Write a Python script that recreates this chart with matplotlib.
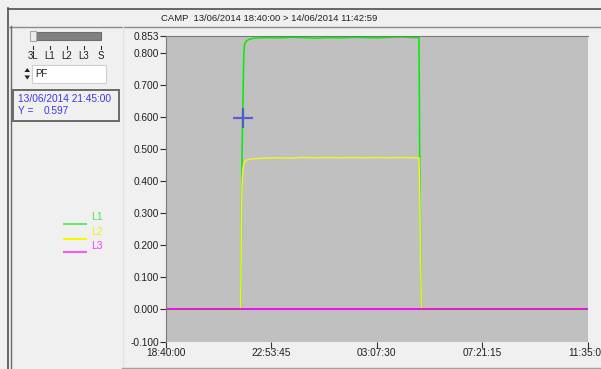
import matplotlib
matplotlib.use("Agg")
import matplotlib.pyplot as plt
import matplotlib.dates as mdates
from matplotlib.patches import Rectangle, Polygon
import pandas as pd

plt.rcParams['font.family'] = ['Liberation Sans', 'DejaVu Sans']

# time axis: minutes after 13/06/2014 18:40:00
start = pd.Timestamp('2014-06-13 18:40:00')

l1_min = [0, 180, 181, 182, 183, 184, 185, 186, 187, 188, 190, 195, 200, 210, 240, 270, 300,
          330, 360, 390, 420, 450, 480, 510, 540, 570, 600, 609, 610, 611, 612, 613, 614, 615,
          616, 1023]
l1_val = [0.0, 0.0, 0.08, 0.22, 0.40, 0.52, 0.597, 0.66, 0.74, 0.80, 0.83, 0.838, 0.842, 0.846,
          0.848, 0.847, 0.849, 0.848, 0.846, 0.848, 0.847, 0.849, 0.848, 0.847, 0.849, 0.850,
          0.848, 0.848, 0.69, 0.45, 0.38, 0.21, 0.11, 0.03, 0.0, 0.0]

l2_min = [0, 180, 181, 182, 183, 184, 185, 186, 188, 192, 200, 210, 240, 270, 300, 330, 360,
          390, 420, 450, 480, 510, 540, 570, 600, 609, 610, 611, 612, 613, 614, 615, 616, 1023]
l2_val = [0.0, 0.0, 0.10, 0.25, 0.35, 0.40, 0.425, 0.44, 0.453, 0.465, 0.468, 0.470, 0.472,
          0.473, 0.472, 0.474, 0.473, 0.474, 0.473, 0.474, 0.473, 0.474, 0.473, 0.474, 0.473,
          0.473, 0.43, 0.36, 0.26, 0.16, 0.08, 0.02, 0.0, 0.0]

l3_min = [0, 1023]
l3_val = [0.0, 0.0]

cursor_time = '2014-06-13 21:45:00'
cursor_val = 0.597

x_ticks = ['2014-06-13 18:40:00', '2014-06-13 22:53:45', '2014-06-14 03:07:30',
           '2014-06-14 07:21:15', '2014-06-14 11:35:00']
y_ticks = [-0.1, 0.0, 0.1, 0.2, 0.3, 0.4, 0.5, 0.6, 0.7, 0.8, 0.853]


def to_time(mins):
    return start + pd.to_timedelta(mins, unit='min')


W, H = 601, 369
fig = plt.figure(figsize=(W / 100, H / 100), dpi=100, facecolor='#F0F0F0')

# overlay in pixel coordinates for the window decoration
ov = fig.add_axes([0, 0, 1, 1], zorder=0)
ov.set_xlim(0, W)
ov.set_ylim(H, 0)
ov.axis('off')
ov.patch.set_alpha(0)

ov.plot([8, W], [8.5, 8.5], color='#505050', lw=1.2)
ov.plot([8, 8], [8, H], color='#505050', lw=1.2)
ov.plot([8, W], [26.5, 26.5], color='#8A8A8A', lw=1)
ov.plot([10.5, 10.5], [26, H], color='#6A6A6A', lw=1)
ov.plot([122.5, 122.5], [26, 367], color='#E2E2E2', lw=1)
ov.plot([122, W], [367.5, 367.5], color='#A0A0A0', lw=1)

ov.text(269.5, 18.5, 'CAMP  13/06/2014 18:40:00 > 14/06/2014 11:42:59', ha='center',
        va='center', fontsize=6.8, color='#202020')

# slider
ov.add_patch(Rectangle((36, 32), 65, 8, facecolor='#808080', edgecolor='#6E6E6E', lw=0.8))
ov.add_patch(Rectangle((29.5, 30.5), 6, 10, facecolor='#ECECEC', edgecolor='#A8A8A8', lw=0.8))
for xp, lab in zip([33, 50, 67, 83.5, 100.5], ['3L', 'L1', 'L2', 'L3', 'S']):
    ov.plot([xp, xp], [45.5, 48.5], color='#303030', lw=0.8)
    ov.text(xp, 56, lab, ha='center', va='center', fontsize=7, color='#202020')

# spinner box
ov.add_patch(Rectangle((31.5, 65), 74.5, 17.5, facecolor='white', edgecolor='#CFCFCF', lw=0.8))
ov.add_patch(Polygon([[24.5, 72], [30, 72], [27.25, 68]], facecolor='#202020'))
ov.add_patch(Polygon([[24.5, 75.5], [30, 75.5], [27.25, 79.5]], facecolor='#202020'))
ov.text(35, 74, 'PF', ha='left', va='center', fontsize=7, color='#202020')

# cursor info box
ov.add_patch(Rectangle((12.7, 90.3), 106.5, 30.7, facecolor='none', edgecolor='#6A6A6A', lw=1.4))
ov.text(18, 98.5, '13/06/2014 21:45:00', ha='left', va='center', fontsize=7.3, color='#3A3AE6')
ov.text(18, 111.5, 'Y =', ha='left', va='center', fontsize=7.3, color='#3A3AE6')
ov.text(43.3, 111.5, '0.597', ha='left', va='center', fontsize=7.3, color='#3A3AE6')

# legend
for yp, lab, lc, tc in zip([224, 238.7, 252.3], ['L1', 'L2', 'L3'],
                           ['#6EE66E', '#F6F600', '#F55AF5'],
                           ['#3CF03C', '#F0F000', '#F040F0']):
    ov.plot([64, 86], [yp, yp], color=lc, lw=1.5)
    ov.text(91.5, yp - 6.5, lab, ha='left', va='center', fontsize=7.5, color=tc)

# main chart
left, right = 165.7 / W, 587.7 / W
top, bottom = 1 - 36 / H, 1 - 341.5 / H
ax = fig.add_axes([left, bottom, right - left, top - bottom], zorder=1)
ax.set_facecolor('#C0C0C0')

ax.plot(to_time(l1_min), l1_val, color='#00F000', lw=1.1)
ax.plot(to_time(l2_min), l2_val, color='#F0F030', lw=1.1)
ax.plot(to_time(l3_min), l3_val, color='#F000F0', lw=1.3)
ax.plot([pd.Timestamp(cursor_time)], [cursor_val], marker='+', color='#4B4BD8',
        markersize=14.4, mew=1.6, alpha=0.85)

ax.set_xlim(pd.Timestamp(x_ticks[0]), pd.Timestamp(x_ticks[-1]))
ax.set_ylim(-0.1, 0.853)
ax.set_xticks([pd.Timestamp(t) for t in x_ticks])
ax.xaxis.set_major_formatter(mdates.DateFormatter('%H:%M:%S'))
ax.set_yticks(y_ticks)
ax.set_yticklabels(['%.3f' % v for v in y_ticks])

for side in ['right', 'bottom']:
    ax.spines[side].set_visible(False)
ax.spines['left'].set_color('#7A7A7A')
ax.spines['top'].set_color('#7A7A7A')
ax.tick_params(axis='both', direction='out', length=4, width=0.8, color='#303030',
               labelsize=7.3, labelcolor='#202020', pad=1)
for lab in ax.get_xticklabels():
    lab.set_clip_on(False)

plt.savefig('out.png', dpi=100, facecolor=fig.get_facecolor())
